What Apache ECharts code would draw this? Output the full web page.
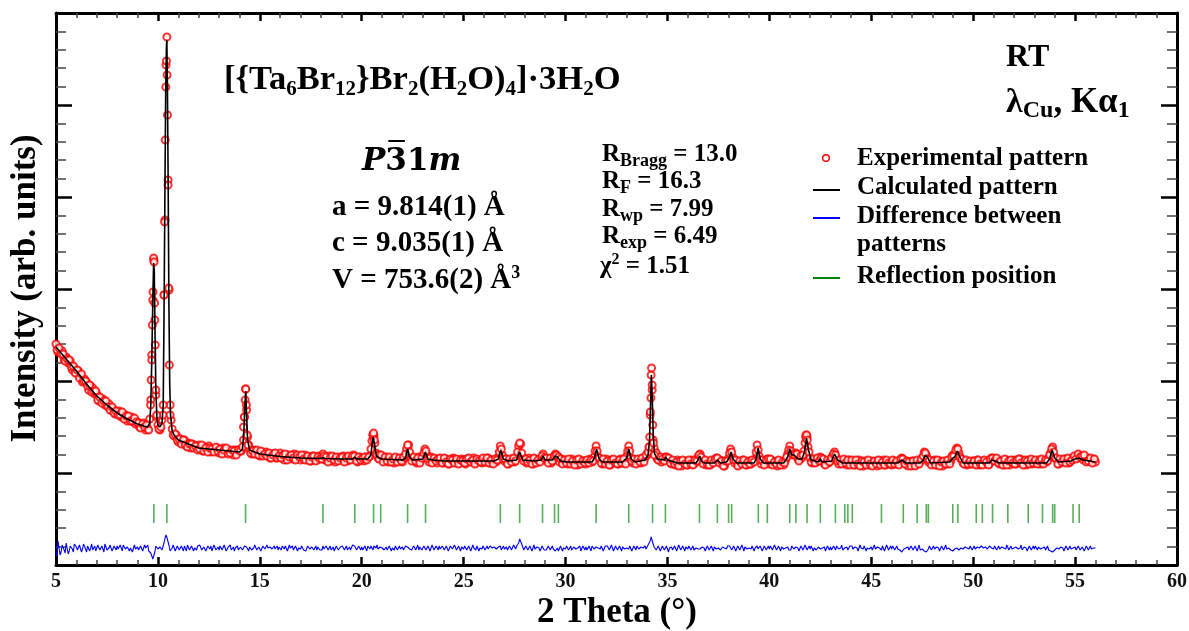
<!DOCTYPE html>
<html>
<head>
<meta charset="utf-8">
<script src="https://cdn.jsdelivr.net/npm/echarts/dist/echarts.min.js"></script>
<style>
html,body{margin:0;padding:0;background:#fff;}
#chart{width:1189px;height:631px;}
</style>
</head>
<body>
<div id="chart"></div>
<script>
// ---------------- DATA (intensities in arbitrary units) ----------------
const obsStart = 5.0;
const obsStep = 0.1;
// Experimental pattern, one value per 0.1 deg from 5.0 to 56.0
const obsI = [
221,213,214,214,205,208,202,204,195,197,
192,194,189,183,186,183,175,179,177,171,
171,164,166,166,160,160,161,155,156,151,
153,154,148,149,150,144,147,148,143,141,
143,138,141,142,135,136,146,210,305,170,
140,135,145,270,500,385,160,136,129,130,
123,126,123,125,119,122,117,121,119,117,
120,116,114,118,116,119,113,116,114,117,
112,115,117,112,114,115,112,110,115,113,
115,114,125,176,128,116,111,115,111,113,
109,113,111,113,109,107,111,111,107,109,
112,108,105,109,110,108,106,111,107,108,
105,108,110,106,107,104,109,107,105,109,
108,111,105,106,109,104,107,103,106,108,
105,109,106,104,108,108,110,106,103,108,
106,104,108,107,109,124,129,112,107,110,
108,105,108,103,105,106,102,107,104,106,
103,107,116,120,108,107,104,102,108,105,
109,116,110,103,108,104,106,102,106,104,
102,106,105,101,104,107,103,105,102,106,
105,101,106,104,103,107,102,105,104,102,
106,103,107,102,105,104,103,108,119,110,
104,106,101,105,106,103,107,119,121,107,
105,102,107,104,101,106,103,105,106,111,
105,106,104,102,107,111,109,103,106,103,
105,101,104,106,102,103,100,105,102,104,
101,104,106,103,108,119,108,106,101,104,
106,102,100,105,103,104,101,106,102,103,
109,119,107,102,105,102,104,102,106,107,
110,118,190,125,113,106,108,103,106,108,
105,106,101,103,100,105,102,99,103,104,
100,103,105,101,103,108,111,103,104,100,
103,100,104,103,107,104,105,101,99,104,
107,116,108,102,104,100,103,105,101,100,
104,101,104,106,120,109,101,104,102,106,
101,105,101,103,99,104,102,100,105,111,
119,110,111,112,106,106,107,114,130,118,
107,102,105,103,104,108,106,101,104,102,
104,109,113,107,101,104,102,104,100,105,
102,104,100,103,105,101,99,104,102,100,
104,101,103,99,104,102,105,100,101,103,
100,104,101,103,103,107,103,104,99,103,
104,100,103,101,104,106,113,110,103,104,
101,105,100,102,104,99,103,101,104,104,
110,110,117,112,106,102,104,100,103,101,
104,101,105,100,103,104,101,104,101,107,
105,106,105,101,103,100,105,103,100,104,
105,101,103,106,102,104,100,105,103,101,
104,102,105,101,104,103,103,107,112,118,
107,106,101,104,103,106,104,102,106,106,
108,107,110,108,105,107,107,104,104,106,
103
];
// Experimental pattern, intermediate points at 5.05, 5.15, ... 55.95
const obsI2 = [
215,217,211,211,204,206,205,198,199,192,
195,187,191,184,184,179,180,173,174,174,
165,168,162,164,164,158,155,158,152,154,
150,150,153,146,149,149,144,144,147,143,
142,137,141,138,140,135,165,265,245,148,
136,138,150,345,490,275,145,130,131,125,
126,121,125,120,118,121,121,117,119,115,
116,120,114,117,113,117,116,113,118,114,
116,111,115,117,111,112,115,114,110,115,
114,118,148,155,120,112,114,111,115,110,
114,109,111,109,112,107,110,112,107,109,
107,110,111,105,108,110,107,105,110,108,
110,106,105,109,104,108,109,104,108,106,
106,109,108,103,107,109,105,108,104,107,
108,103,107,109,105,109,109,104,108,105,
107,108,105,108,116,130,122,110,106,110,
103,108,104,108,103,106,108,103,107,104,
108,111,120,113,104,108,104,107,102,107,
112,114,106,107,102,107,104,106,107,102,
107,103,101,106,105,102,106,101,105,104,
102,106,107,103,105,101,106,104,103,107,
103,107,102,105,101,106,105,113,116,106,
106,101,106,103,107,104,113,122,112,104,
106,103,105,101,107,102,105,103,109,107,
107,102,107,104,109,110,108,106,101,105,
102,106,101,104,100,105,106,101,104,102,
105,102,105,104,114,114,107,102,106,101,
104,100,105,106,102,101,105,102,106,101,
114,114,104,106,101,106,103,107,103,110,
113,150,175,117,112,105,108,106,104,108,
107,102,105,101,103,99,104,105,101,100,
105,101,100,105,104,110,108,101,105,101,
100,105,102,106,107,102,104,99,104,104,
112,113,105,105,99,104,101,105,100,103,
101,105,103,113,115,105,105,100,105,106,
106,100,103,101,105,100,103,102,108,115,
114,111,110,111,104,109,110,122,128,113,
103,106,102,107,104,107,106,100,105,103,
107,111,110,104,105,101,106,102,105,100,
105,100,105,101,99,104,103,100,105,101,
99,104,101,105,100,103,100,105,102,101,
105,101,104,100,106,106,101,104,103,99,
104,99,105,101,106,109,112,106,105,100,
104,100,105,99,103,104,101,105,101,108,
109,115,116,108,106,101,105,101,104,101,
104,100,105,101,100,105,103,100,106,107,
104,107,102,104,100,106,100,104,105,102,
101,105,106,102,100,105,104,101,106,102,
105,101,104,106,101,105,104,110,116,113,
107,101,106,103,106,102,107,103,105,109,
106,111,108,109,110,103,104,107,102,106
];
// Extra experimental points on the sharp peaks [2theta, intensity]
const obsFine = [
[9.64,160],[9.67,185],[9.70,205],[9.73,240],[9.76,273],[9.79,307],[9.81,303],[9.84,262],[9.87,220],[9.90,175],[9.94,150],
[10.26,160],[10.30,270],[10.33,343],[10.36,425],[10.39,478],[10.42,504],[10.44,528],[10.47,450],[10.50,380],[10.53,277],[10.56,200],[10.60,150],
[14.20,138],[14.24,148],[14.28,165],[14.31,176],[14.34,160],[14.38,130],[14.42,120],
[20.55,130],[20.58,132],[20.62,125],
[34.10,118],[34.13,128],[34.16,153],[34.19,167],[34.22,197],[34.25,180],[34.28,140],[34.31,122],[34.36,110],
[41.78,128],[41.83,130],[41.86,125]
];
// Calculated pattern
const calcT = [5.0,5.5,6.0,6.5,7.0,7.5,8.0,8.5,9.0,9.3,9.5,9.6,9.65,9.7,9.75,9.79,9.82,9.86,9.9,9.95,10.0,10.1,10.2,10.26,10.3,10.34,10.38,10.42,10.44,10.47,10.5,10.54,10.58,10.62,10.7,10.8,11.0,11.5,12.0,12.5,13.0,13.5,14.0,14.15,14.22,14.27,14.31,14.35,14.4,14.5,15.0,16.0,17.0,18.0,18.1,18.2,19.0,19.55,19.65,19.75,20.3,20.45,20.52,20.57,20.63,20.72,20.85,20.92,21.0,22.0,22.15,22.25,22.35,22.5,23.0,23.12,23.25,23.5,24.0,26.5,26.7,26.82,26.95,27.2,27.6,27.75,27.9,28.5,28.8,28.9,29.0,29.35,29.5,29.6,29.75,30.0,31.3,31.42,31.52,31.65,31.8,32.8,33.0,33.1,33.22,33.4,33.9,34.05,34.12,34.17,34.21,34.25,34.3,34.36,34.5,34.85,34.92,35.0,35.5,36.4,36.5,36.58,36.68,36.8,37.3,37.45,37.6,37.9,38.05,38.12,38.22,38.4,39.25,39.35,39.45,39.55,39.7,40.7,40.9,41.0,41.1,41.22,41.3,41.4,41.6,41.72,41.82,41.92,42.05,42.4,42.5,42.6,43.05,43.2,43.35,43.6,46.3,46.5,46.7,47.4,47.55,47.65,47.75,47.9,48.85,49.0,49.1,49.22,49.35,49.5,50.8,50.92,51.05,51.3,53.6,53.75,53.87,54.0,54.2,54.8,55.0,55.2,55.4,55.7,56.0];
const calcI = [218,206,194,181,169,160,152,146,141,139,138,142,160,205,265,302,295,230,175,148,140,138,142,160,250,360,470,520,525,470,390,260,180,150,134,130,125,121,117,116,115,114,113,116,135,160,174,150,125,115,111,108.5,107,106.5,107.5,106.5,106,106,108,106,106,110,122,128,120,109,107,108,106,105,107,116,108,105,106,113,106,105,104,104,106,115,106,104,105,113,105,104,105,109,105,105,109,108,104,103,103,107,116,106,103,103,107,116,106,103,105,110,125,160,190,170,132,112,106,105,108,105,102,102,105,109,104,102,102,105,102,103,108,113,106,102,102,106,117,106,102,102,108,116,110,110,111,106,106,113,127,115,105,103,106,103,104,111,105,102,102,105,102,102,105,110,108,102,103,107,108,114,108,102,102,105,104,102,102,106,115,107,103,104,106,107,105,104,103];
// Difference between patterns (offset), one value per 0.1 deg from 5.0 to 56.0
const diffI = [
12,24,10,20,15,22,11,19,16,21,
18,14,21,16,19,13,20,17,15,19,
16,20,14,18,21,15,17,19,14,18,
19,15,17,20,16,18,14,19,17,16,
18,15,19,16,17,20,15,13,8,19,
16,18,15,22,30,23,14,17,19,16,
18,15,17,19,14,18,16,19,17,15,
17,19,16,18,15,17,19,16,18,17,
15,18,17,19,16,17,15,18,17,19,
16,18,17,20,16,18,15,17,19,16,
18,16,19,15,17,18,16,19,17,15,
17,19,16,18,15,17,19,16,18,17,
16,18,17,15,19,16,18,17,15,18,
17,19,16,18,17,15,18,16,19,17,
16,18,17,15,18,17,20,18,16,17,
18,16,17,19,16,18,19,17,16,18,
17,15,18,16,19,17,15,18,17,16,
18,17,19,20,17,16,18,17,15,18,
17,18,16,19,17,18,16,17,19,16,
18,16,17,15,18,17,19,16,17,18,
16,18,17,19,16,17,15,18,17,16,
18,17,16,19,17,18,16,18,19,17,
16,18,17,19,17,18,19,22,27,18,
16,17,15,18,17,16,18,17,15,18,
17,16,18,17,16,14,17,15,18,17,
16,18,17,15,18,16,17,19,16,17,
18,16,17,19,16,18,17,16,18,15,
17,18,16,17,15,18,16,17,18,16,
17,16,18,16,17,19,16,18,17,19,
18,20,28,21,17,16,18,15,17,15,
16,17,18,16,17,15,18,16,17,18,
16,18,17,15,17,16,16,18,17,16,
18,16,17,18,16,17,15,18,17,16,
17,18,16,17,15,18,16,17,18,16,
17,16,18,17,19,16,17,15,18,17,
16,18,17,19,16,17,18,16,17,18,
17,19,16,18,17,16,18,17,19,17,
16,18,17,15,18,16,17,18,16,17,
18,16,17,19,16,17,15,17,18,16,
17,16,18,17,15,17,16,18,17,16,
18,17,16,18,17,15,17,16,18,17,
16,18,17,16,15,13,16,17,18,16,
17,16,18,17,15,16,14,13,16,18,
17,16,18,17,16,18,17,16,17,15,
14,16,17,15,17,16,18,17,16,18,
17,16,18,17,19,17,18,16,19,17,
16,18,17,16,18,17,16,18,17,16,
17,18,16,17,15,18,17,16,18,17,
16,17,18,16,17,18,16,15,14,13,
15,17,16,18,17,16,18,17,16,17,
18,16,17,15,17,16,18,17,16,17,
17
];
// Difference, intermediate points at 5.05, 5.15, ... 55.95
const diffI2 = [
9,23,13,18,12,24,14,20,13,22,
15,20,13,21,16,19,14,21,16,14,
20,15,19,13,18,16,20,14,19,15,
16,20,14,18,15,19,17,13,20,16,
15,19,14,20,16,14,12,6,13,21,
14,20,17,27,27,19,15,20,14,19,
15,19,14,18,20,15,19,14,17,19,
20,15,18,14,19,16,14,20,15,18,
19,15,20,14,18,20,16,14,19,15,
18,15,19,18,14,19,17,20,15,18,
14,19,16,20,15,19,14,16,19,18,
15,17,19,14,20,16,15,19,14,19,
19,15,14,19,16,18,15,19,18,15,
15,16,19,15,19,16,14,19,15,18,
19,15,19,17,15,20,19,15,19,15,
15,19,14,17,19,15,17,20,15,19,
19,16,15,19,14,18,19,15,19,18,
15,19,18,16,15,19,15,20,18,15,
19,15,19,14,20,15,19,15,16,19,
15,19,14,19,16,20,15,19,14,19,
19,15,19,14,20,15,19,14,16,19,
15,19,14,19,15,20,14,19,15,19,
18,15,19,15,20,16,20,26,21,15,
19,15,19,14,20,15,19,14,19,15,
15,19,15,19,14,16,14,19,14,19,
19,15,19,14,20,15,19,14,19,15,
15,19,14,19,15,19,15,19,14,19,
19,15,20,14,19,15,19,14,19,15,
15,19,14,19,15,18,15,20,15,16,
20,24,26,18,15,19,14,19,15,19,
13,19,15,19,14,20,15,19,14,19,
19,15,19,14,19,15,14,19,14,19,
15,19,14,19,15,19,14,19,15,19,
19,15,19,14,19,15,20,14,19,15,
15,19,14,19,16,19,14,19,15,19,
19,15,20,15,19,14,19,15,19,15,
15,20,15,19,14,19,15,20,15,19,
19,14,19,15,20,15,19,14,19,15,
15,19,15,19,14,20,14,19,15,19,
19,15,19,14,20,15,19,14,19,15,
15,20,14,19,15,19,14,20,15,19,
19,15,19,14,14,12,14,19,15,19,
15,19,14,20,15,14,12,14,19,15,
19,15,19,14,19,15,20,14,19,16,
13,14,19,14,19,15,20,15,19,15,
19,14,20,15,19,15,19,14,20,15,
19,15,19,14,19,15,20,15,19,14,
15,19,14,20,15,19,14,19,15,19,
19,15,19,14,19,15,19,13,12,14,
14,19,15,19,14,19,15,19,14,19,
15,19,15,18,14,19,15,19,14,19
];
// Reflection (Bragg) positions, 2theta
const reflT = [9.80,10.44,14.30,18.10,19.66,20.58,20.93,22.25,23.13,26.80,27.75,28.87,29.46,29.65,31.50,33.10,34.27,34.90,36.57,37.45,38.00,38.15,39.46,39.90,41.00,41.30,41.85,42.50,43.24,43.70,43.85,44.07,45.50,46.57,47.25,47.70,47.80,49.00,49.25,50.15,50.45,50.95,51.70,52.70,53.40,53.90,54.00,54.90,55.20];
const reflLevel = 51.5;   // vertical level of the reflection markers
const xTickMin = 5, xTickMax = 60, xTickStep = 5;
const yMin = 0, yMax = 552, yStep = 92;

// ---------------- build series data ----------------
const t1 = i => +(obsStart + i * obsStep).toFixed(2);
const t2 = i => +(obsStart + obsStep / 2 + i * obsStep).toFixed(2);
const obsData = obsI.map((v, i) => [t1(i), v])
  .concat(obsI2.map((v, i) => [t2(i), v]))
  .concat(obsFine);
const calcData = calcT.map((t, i) => [t, calcI[i]]);
const diffData = [];
diffI.forEach((v, i) => {
  diffData.push([t1(i), v]);
  if (i < diffI2.length) diffData.push([t2(i), diffI2[i]]);
});
const reflData = reflT.map(t => [t, reflLevel]);

// ---------------- text helpers ----------------
const mctx = document.createElement('canvas').getContext('2d');
const SERIF = 'Liberation Serif';
function runs(x0, base, parts) {
  let x = x0;
  const els = [], pos = [];
  for (const p of parts) {
    const fam = p.f || SERIF;
    const st = p.i ? 'italic' : 'normal';
    const wt = p.w || 'bold';
    mctx.font = `${st} ${wt} ${p.s}px "${fam}"`;
    const w = mctx.measureText(p.t).width;
    els.push({
      type: 'text', x: x, y: base + (p.dy || 0) - 0.3375 * p.s, silent: true, z: 100,
      style: {
        text: p.t, fontFamily: fam, fontStyle: st, fontWeight: wt, fontSize: p.s,
        fill: '#000', textAlign: 'left', textVerticalAlign: 'middle', align: 'left', verticalAlign: 'middle'
      }
    });
    pos.push([x, w]);
    x += w;
  }
  return { els, pos };
}

const graphics = [];
function add(r) { r.els.forEach(e => graphics.push(e)); return r; }

// Formula
const S = 34.5, s = 21, d = 5;
add(runs(224, 92, [
  {t: '[{Ta', s: S}, {t: '6', s: s, dy: d}, {t: 'Br', s: S}, {t: '12', s: s, dy: d},
  {t: '}Br', s: S}, {t: '2', s: s, dy: d}, {t: '(H', s: S}, {t: '2', s: s, dy: d},
  {t: 'O)', s: S}, {t: '4', s: s, dy: d}, {t: ']·3H', s: S}, {t: '2', s: s, dy: d}, {t: 'O', s: S}
]));
// Space group
const sg = add(runs(362, 172, [
  {t: 'P', s: 31, f: 'DejaVu Serif', i: true}, {t: '3', s: 31, f: 'DejaVu Serif'},
  {t: '1', s: 31, f: 'DejaVu Serif'}, {t: 'm', s: 31, f: 'DejaVu Serif', i: true}
]));
graphics.push({type: 'line', silent: true, z: 100,
  shape: {x1: sg.pos[1][0] + 3, y1: 141, x2: sg.pos[1][0] + sg.pos[1][1] - 2, y2: 141},
  style: {stroke: '#000', lineWidth: 2}});
// Cell parameters
add(runs(332, 217, [{t: 'a = 9.814(1) Å', s: 29}]));
add(runs(332, 253, [{t: 'c = 9.035(1) Å', s: 29}]));
add(runs(332, 290, [{t: 'V = 753.6(2) Å', s: 29}, {t: '3', s: 18, dy: -11}]));
// Agreement factors
const RS = 25, rs = 18;
add(runs(602, 163, [{t: 'R', s: RS}, {t: 'Bragg', s: rs, dy: 4}, {t: ' = 13.0', s: RS}]));
add(runs(602, 190, [{t: 'R', s: RS}, {t: 'F', s: rs, dy: 4}, {t: ' = 16.3', s: RS}]));
add(runs(602, 218, [{t: 'R', s: RS}, {t: 'wp', s: rs, dy: 4}, {t: ' = 7.99', s: RS}]));
add(runs(602, 245, [{t: 'R', s: RS}, {t: 'exp', s: rs, dy: 4}, {t: ' = 6.49', s: RS}]));
add(runs(600, 275, [{t: 'χ', s: RS}, {t: '2', s: 16, dy: -10}, {t: ' = 1.51', s: RS}]));
// Conditions
add(runs(1006, 69, [{t: 'RT', s: 32}]));
add(runs(1006, 115, [{t: 'λ', s: 34}, {t: 'Cu', s: 24, dy: 4}, {t: ', Kα', s: 35}, {t: '1', s: 24, dy: 4}]));
// Legend
const LS = 25;
add(runs(857, 167, [{t: 'Experimental pattern', s: LS}]));
add(runs(857, 196, [{t: 'Calculated pattern', s: LS}]));
add(runs(857, 225, [{t: 'Difference between', s: LS}]));
add(runs(857, 253, [{t: 'patterns', s: LS}]));
add(runs(857, 285, [{t: 'Reflection position', s: LS}]));
graphics.push({type: 'circle', silent: true, shape: {cx: 826, cy: 158, r: 3.3}, style: {fill: 'none', stroke: '#ff0000', lineWidth: 1.4}});
graphics.push({type: 'line', silent: true, shape: {x1: 813, y1: 190, x2: 840, y2: 190}, style: {stroke: '#000', lineWidth: 2}});
graphics.push({type: 'line', silent: true, shape: {x1: 813, y1: 218, x2: 840, y2: 218}, style: {stroke: '#0000ff', lineWidth: 2}});
graphics.push({type: 'line', silent: true, shape: {x1: 813, y1: 278, x2: 840, y2: 278}, style: {stroke: '#008000', lineWidth: 2}});
// Axis titles
graphics.push({type: 'text', x: 617, y: 613, silent: true,
  style: {text: '2 Theta (°)', fontFamily: SERIF, fontWeight: 'bold', fontSize: 35, fill: '#000',
    textAlign: 'center', align: 'center', textVerticalAlign: 'middle', verticalAlign: 'middle'}});
graphics.push({type: 'text', x: 25.7, y: 288.5, rotation: Math.PI / 2, silent: true,
  style: {text: 'Intensity (arb. units)', fontFamily: SERIF, fontWeight: 'bold', fontSize: 35, fill: '#000',
    textAlign: 'center', align: 'center', textVerticalAlign: 'middle', verticalAlign: 'middle'}});

// ---------------- axes ----------------
function xAx(pos, labels) {
  return {
    type: 'value', position: pos, min: xTickMin, max: xTickMax, interval: xTickStep,
    axisLine: {show: true, onZero: false, lineStyle: {color: '#000', width: 3}},
    axisTick: {show: true, inside: true, length: 8, lineStyle: {color: '#000', width: 2.5}},
    minorTick: {show: true, splitNumber: 5, length: 5, lineStyle: {color: '#444', width: 1.5}},
    axisLabel: {show: labels, margin: 7, color: '#111', fontFamily: SERIF, fontWeight: 'bold', fontSize: 20},
    splitLine: {show: false}, minorSplitLine: {show: false}
  };
}
function yAx(pos) {
  return {
    type: 'value', position: pos, min: yMin, max: yMax, interval: yStep,
    axisLine: {show: true, onZero: false, lineStyle: {color: '#000', width: 3}},
    axisTick: {show: true, inside: true, length: 16, lineStyle: {color: '#000', width: 2.5}},
    minorTick: {show: true, splitNumber: 5, length: 10, lineStyle: {color: '#444', width: 1.5}},
    axisLabel: {show: false},
    splitLine: {show: false}, minorSplitLine: {show: false}
  };
}

const chart = echarts.init(document.getElementById('chart'), null, {renderer: 'canvas'});
chart.setOption({
  animation: false,
  backgroundColor: '#fff',
  grid: {left: 56, right: 12, top: 13, bottom: 66, containLabel: false, outerBoundsMode: 'none'},
  xAxis: [xAx('bottom', true), xAx('top', false)],
  yAxis: [yAx('left'), yAx('right')],
  series: [
    {type: 'scatter', name: 'Experimental pattern', data: obsData, symbol: 'emptyCircle', symbolSize: 7,
      itemStyle: {color: '#ff0000', borderColor: '#ff0000', borderWidth: 1.8}, z: 2, silent: true, large: false},
    {type: 'line', name: 'Calculated pattern', data: calcData, showSymbol: false, symbol: 'none',
      lineStyle: {color: '#000', width: 1.6}, z: 3, silent: true},
    {type: 'line', name: 'Difference between patterns', data: diffData, showSymbol: false, symbol: 'none',
      lineStyle: {color: '#0000ff', width: 1.1}, z: 3, silent: true},
    {type: 'scatter', name: 'Reflection position', data: reflData, symbol: 'rect', symbolSize: [1.6, 19],
      itemStyle: {color: '#2f9a2f'}, z: 3, silent: true}
  ],
  graphic: {elements: graphics}
});
</script>
</body>
</html>
